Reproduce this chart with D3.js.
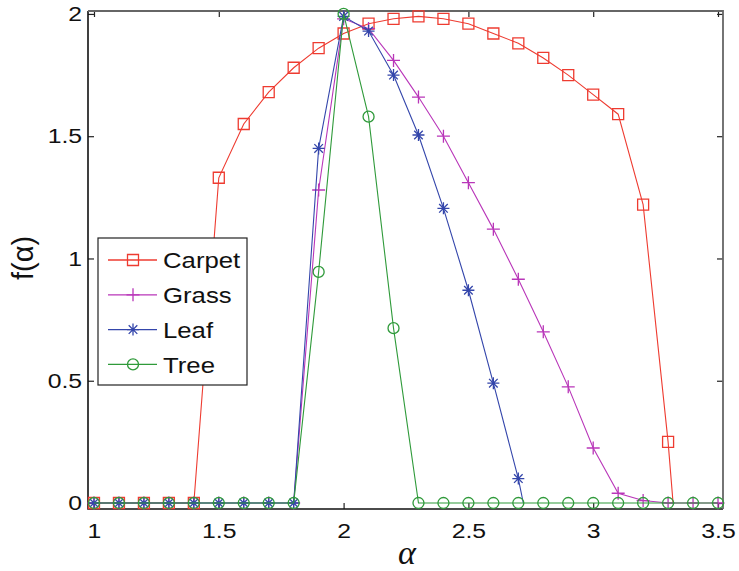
<!DOCTYPE html>
<html>
<head>
<meta charset="utf-8">
<script src="https://cdn.jsdelivr.net/npm/d3@7"></script>
<style>
  body { margin: 0; background: #fff; }
  text { font-family: "Liberation Sans", Arial, sans-serif; fill: #111; }
</style>
</head>
<body>
<script>
// alpha grid, one value per sample
var alphaGrid = [1.0, 1.1, 1.2, 1.3, 1.4, 1.5, 1.6, 1.7, 1.8, 1.9, 2.0, 2.1, 2.2,
                 2.3, 2.4, 2.5, 2.6, 2.7, 2.8, 2.9, 3.0, 3.1, 3.2, 3.3, 3.4, 3.5]

var carpetF = [0, 0, 0, 0, 0, 1.33, 1.55, 1.68, 1.78, 1.86, 1.92, 1.96, 1.98,
               1.99, 1.98, 1.96, 1.92, 1.88, 1.82, 1.75, 1.67, 1.59, 1.22, 0.25, null, null]
var grassF = [0, 0, 0, 0, 0, 0, 0, 0, 0, 1.28, 1.98, 1.94, 1.81,
              1.66, 1.50, 1.31, 1.12, 0.915, 0.70, 0.475, 0.225, 0.04, 0.01, 0, 0, 0]
var leafF = [0, 0, 0, 0, 0, 0, 0, 0, 0, 1.45, 1.99, 1.93, 1.75,
             1.505, 1.205, 0.87, 0.49, 0.10, null, null, null, null, null, null, null, null]
var treeF = [0, 0, 0, 0, 0, 0, 0, 0, 0, 0.945, 2.0, 1.58, 0.715,
             0, 0, 0, 0, 0, 0, 0, 0, 0, 0, 0, 0, 0]

// where the curve meets zero after the last sample (line only, no marker)
var carpetEnd = [3.32, 0]
var leafEnd = [2.72, 0]

var seriesNames = ["Carpet", "Grass", "Leaf", "Tree"]
var seriesColors = ["#ee3b30", "#b936b9", "#3446ab", "#2f9a3a"]
var seriesMarkers = ["square", "plus", "star", "circle"]

var xTicks = [1, 1.5, 2, 2.5, 3, 3.5]
var yTicks = [0, 0.5, 1, 1.5, 2]

var width = 739, height = 571
var plotL = 88, plotR = 723, plotT = 11, plotB = 509

var svg = d3.select("body").append("svg")
  .attr("width", width)
  .attr("height", height)

var x = d3.scaleLinear().domain([0.976, 3.52]).range([plotL, plotR])
var y = d3.scaleLinear().domain([-0.0245, 2.012]).range([plotB, plotT])

function seriesPoints(vals, end) {
  var pts = []
  alphaGrid.forEach(function (a, i) {
    if (vals[i] != null) pts.push({ a: a, f: vals[i], mark: true })
  })
  if (end) pts.push({ a: end[0], f: end[1], mark: false })
  return pts
}

var allSeries = [
  seriesPoints(carpetF, carpetEnd),
  seriesPoints(grassF),
  seriesPoints(leafF, leafEnd),
  seriesPoints(treeF)
]

function markerPath(kind) {
  if (kind == "square") return "M-5.5,-5.5H5.5V5.5H-5.5Z"
  if (kind == "plus") return "M-6.5,0H6.5M0,-6.5V6.5"
  if (kind == "star") return "M-6,0H6M0,-6V6M-4.3,-4.3L4.3,4.3M-4.3,4.3L4.3,-4.3"
  return d3.symbol().type(d3.symbolCircle).size(Math.PI * 5.5 * 5.5)()
}

// axes: ticks pointing inward on all four sides
var gx = svg.append("g").attr("transform", "translate(0," + plotB + ")")
  .call(d3.axisBottom(x).tickValues(xTicks).tickFormat(d3.format("")).tickSizeInner(-6).tickSizeOuter(0).tickPadding(14))
var gy = svg.append("g").attr("transform", "translate(" + plotL + ",0)")
  .call(d3.axisLeft(y).tickValues(yTicks).tickFormat(d3.format("")).tickSizeInner(-6).tickSizeOuter(0).tickPadding(5))
var gt = svg.append("g").attr("transform", "translate(0," + plotT + ")")
  .call(d3.axisTop(x).tickValues(xTicks).tickFormat("").tickSizeInner(-6).tickSizeOuter(0))
var gr = svg.append("g").attr("transform", "translate(" + plotR + ",0)")
  .call(d3.axisRight(y).tickValues(yTicks).tickFormat("").tickSizeInner(-6).tickSizeOuter(0))

;[gx, gy, gt, gr].forEach(function (g) {
  g.select(".domain").remove()
  g.selectAll("line").attr("stroke", "#222").attr("stroke-width", 1.2)
})
gx.selectAll("text").style("font-size", "21px").attr("fill", "#111")
  .attr("transform", "scale(1.18,1)")
gy.selectAll("text").style("font-size", "21px").attr("fill", "#111")
  .attr("transform", "scale(1.18,1)")

// plot box
svg.append("path")
  .attr("d", "M" + plotL + "," + plotT + "V" + plotB + "H" + plotR)
  .attr("fill", "none").attr("stroke", "#111").attr("stroke-width", 1.6)
svg.append("path")
  .attr("d", "M" + plotL + "," + plotT + "H" + plotR + "V" + plotB)
  .attr("fill", "none").attr("stroke", "#666").attr("stroke-width", 1.8)

var line = d3.line().x(function (d) { return x(d.a) }).y(function (d) { return y(d.f) })

var plot = svg.append("g")
allSeries.forEach(function (pts, k) {
  var g = plot.append("g")
  g.append("path")
    .attr("d", line(pts))
    .attr("fill", "none")
    .attr("stroke", seriesColors[k])
    .attr("stroke-width", 1.1)
  g.selectAll("path.mk").data(pts.filter(function (d) { return d.mark })).enter()
    .append("path").attr("class", "mk")
    .attr("transform", function (d) { return "translate(" + x(d.a) + "," + y(d.f) + ")" })
    .attr("d", markerPath(seriesMarkers[k]))
    .attr("fill", "none")
    .attr("stroke", seriesColors[k])
    .attr("stroke-width", 1.3)
})

// axis labels
svg.append("text")
  .attr("x", 407).attr("y", 564)
  .attr("text-anchor", "middle")
  .style("font-family", "'Liberation Serif', 'DejaVu Serif', serif")
  .style("font-style", "italic")
  .style("font-size", "34px")
  .text("α")
svg.append("text")
  .attr("transform", "translate(33,258) rotate(-90)")
  .attr("text-anchor", "middle")
  .style("font-size", "29px")
  .text("f(α)")

// legend
var legend = svg.append("g")
legend.append("rect")
  .attr("x", 98).attr("y", 238).attr("width", 149).attr("height", 147)
  .attr("fill", "#fff").attr("stroke", "#222").attr("stroke-width", 1.2)
seriesNames.forEach(function (name, k) {
  var ly = 260 + k * 34.8
  var row = legend.append("g").attr("transform", "translate(0," + ly + ")")
  row.append("line").attr("x1", 108).attr("x2", 157).attr("y1", 0).attr("y2", 0)
    .attr("stroke", seriesColors[k]).attr("stroke-width", 1.3)
  row.append("path").attr("transform", "translate(133,0)")
    .attr("d", markerPath(seriesMarkers[k]))
    .attr("fill", "none").attr("stroke", seriesColors[k]).attr("stroke-width", 1.3)
  row.append("text").attr("x", 163 / 1.12).attr("y", 0).attr("dy", "0.36em")
    .attr("transform", "scale(1.12,1)")
    .style("font-size", "23px")
    .text(name)
})
</script>
</body>
</html>
